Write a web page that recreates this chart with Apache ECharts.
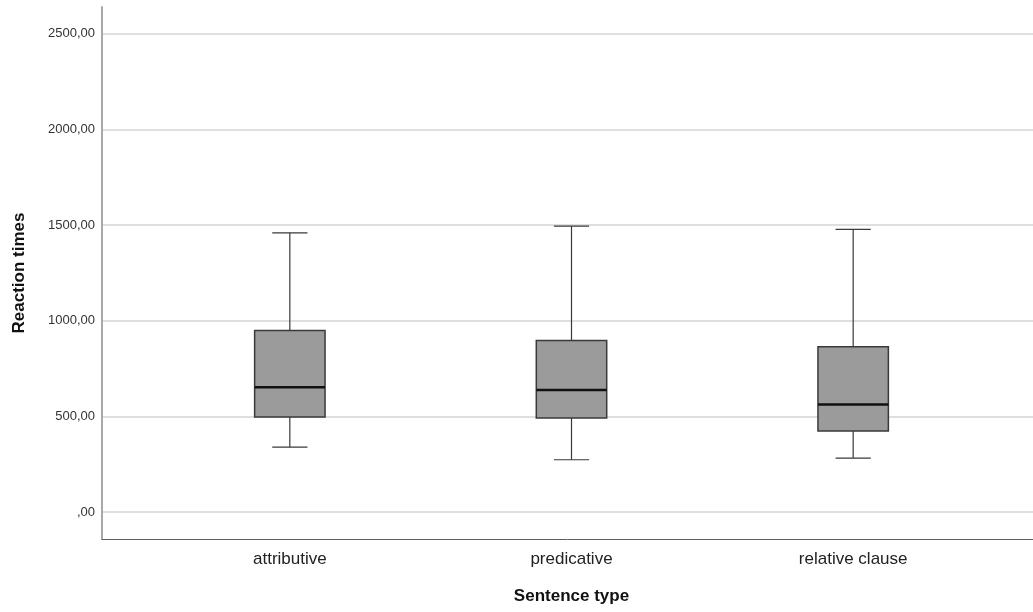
<!DOCTYPE html>
<html>
<head>
<meta charset="utf-8">
<script src="https://cdn.jsdelivr.net/npm/echarts@6/dist/echarts.min.js"></script>
<style>
  html, body { margin: 0; padding: 0; background: #fff; }
  #chart { width: 1033px; height: 612px; }
</style>
</head>
<body>
<div id="chart"></div>
<script>
var categories = ['attributive', 'predicative', 'relative clause'];
var mins = [340, 274, 283];
var q1s = [498, 492, 424];
var medians = [653, 638, 563];
var q3s = [949, 897, 865];
var maxs = [1460, 1495, 1478];

var chart = echarts.init(document.getElementById('chart'));

var boxData = [];
for (var i = 0; i < categories.length; i++) {
    boxData.push([i, mins[i], q1s[i], medians[i], q3s[i], maxs[i]]);
}

function renderBox(params, api) {
    var x = api.value(0);
    var band = api.size([1, 0])[0];
    var boxW = band * 0.25;
    var capW = boxW / 2;
    var pMin = api.coord([x, api.value(1)]);
    var pQ1 = api.coord([x, api.value(2)]);
    var pMed = api.coord([x, api.value(3)]);
    var pQ3 = api.coord([x, api.value(4)]);
    var pMax = api.coord([x, api.value(5)]);
    var cx = pQ1[0];
    var lineStyle = { stroke: '#3a3a3a', lineWidth: 1.2 };
    return {
        type: 'group',
        children: [
            { type: 'line', shape: { x1: cx, y1: pQ3[1], x2: cx, y2: pMax[1] }, style: lineStyle },
            { type: 'line', shape: { x1: cx, y1: pQ1[1], x2: cx, y2: pMin[1] }, style: lineStyle },
            { type: 'line', shape: { x1: cx - capW / 2, y1: pMax[1], x2: cx + capW / 2, y2: pMax[1] }, style: lineStyle },
            { type: 'line', shape: { x1: cx - capW / 2, y1: pMin[1], x2: cx + capW / 2, y2: pMin[1] }, style: lineStyle },
            {
                type: 'rect',
                shape: { x: cx - boxW / 2, y: pQ3[1], width: boxW, height: pQ1[1] - pQ3[1] },
                style: { fill: '#9b9b9b', stroke: '#3a3a3a', lineWidth: 1.5 }
            },
            { type: 'line', shape: { x1: cx - boxW / 2, y1: pMed[1], x2: cx + boxW / 2, y2: pMed[1] }, style: { stroke: '#111', lineWidth: 2.5 } }
        ]
    };
}

var option = {
    animation: false,
    textStyle: { fontFamily: 'Liberation Sans, Arial, sans-serif' },
    grid: [
        { left: 102, right: 0, top: 7, bottom: 73 },
        { left: 149, right: 39, top: 7, bottom: 73 }
    ],
    xAxis: [
        {
            gridIndex: 0,
            type: 'value',
            min: 0,
            max: 1,
            axisLine: { show: true, onZero: false, lineStyle: { color: '#5e5e5e', width: 1 } },
            axisTick: { show: false },
            axisLabel: { show: false },
            splitLine: { show: false }
        },
        {
            gridIndex: 1,
            type: 'category',
            data: categories,
            axisLine: { show: false },
            axisTick: { show: false },
            axisLabel: { color: '#222', fontSize: 17, margin: 12 },
            name: 'Sentence type',
            nameLocation: 'middle',
            nameGap: 49,
            nameTextStyle: { color: '#111', fontSize: 17, fontWeight: 'bold' }
        }
    ],
    yAxis: [
        {
            gridIndex: 0,
            type: 'value',
            min: -140,
            max: 2640,
            axisLine: { show: true, lineStyle: { color: '#a8a8a8', width: 2 } },
            axisTick: { show: false },
            axisLabel: {
                color: '#333',
                fontSize: 13,
                margin: 7,
                showMinLabel: false,
                showMaxLabel: false,
                formatter: function (v) { return v === 0 ? ',00' : v + ',00'; }
            },
            splitLine: {
                show: true,
                showMinLine: false,
                showMaxLine: false,
                lineStyle: { color: '#d4d4d4', width: 1.5 }
            },
            name: 'Reaction times',
            nameLocation: 'middle',
            nameGap: 74,
            nameTextStyle: { color: '#111', fontSize: 17, fontWeight: 'bold' }
        },
        {
            gridIndex: 1,
            type: 'value',
            min: -140,
            max: 2640,
            show: false,
            splitLine: { show: false }
        }
    ],
    series: [
        {
            type: 'custom',
            xAxisIndex: 1,
            yAxisIndex: 1,
            renderItem: renderBox,
            encode: { x: 0, y: [1, 2, 3, 4, 5] },
            data: boxData
        }
    ]
};

chart.setOption(option);
</script>
</body>
</html>
